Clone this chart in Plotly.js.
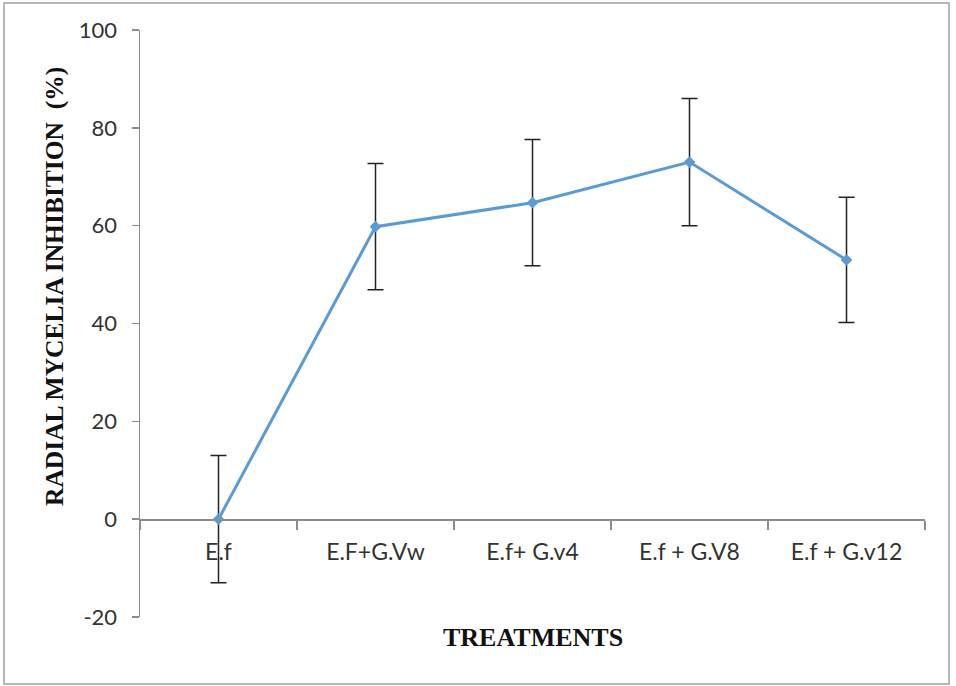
<!DOCTYPE html>
<html>
<head>
<meta charset="utf-8">
<script src="https://cdn.plot.ly/plotly-3.0.1.min.js"></script>
<style>
html,body{margin:0;padding:0;background:#fff;}
#chart{width:956px;height:686px;}
</style>
</head>
<body>
<div id="chart"></div>
<script>
var categories = ["E.f", "E.F+G.Vw", "E.f+ G.v4", "E.f + G.V8", "E.f + G.v12"];
var inhibition = [0, 59.8, 64.7, 73.0, 53.0];
var errors = [13, 12.9, 12.9, 13, 12.8];
var yTicks = [-20, 0, 20, 40, 60, 80, 100];

var L = 140, R = 925, T = 30, B = 617;
function px(x){ return (x - L) / (R - L); }
function py(y){ return (B - y) / (B - T); }

var trace = {
  x: categories,
  y: inhibition,
  type: 'scatter',
  mode: 'lines+markers',
  line: {color: '#5B9BD5', width: 3},
  marker: {symbol: 'diamond', size: 9, color: '#5B9BD5'},
  error_y: {type: 'data', array: errors, visible: true, color: '#222', thickness: 1.5, width: 8},
  showlegend: false,
  cliponaxis: false
};

var layout = {
  width: 956, height: 686,
  margin: {l: L, r: 956 - R, t: T, b: 686 - B},
  paper_bgcolor: '#fff', plot_bgcolor: '#fff',
  xaxis: {
    type: 'category',
    range: [-0.5, 4.5],
    anchor: 'free',
    position: 20 / 120,
    showline: true, linecolor: '#8c8c8c', linewidth: 1.5,
    showgrid: false, zeroline: false,
    ticks: 'outside', tickson: 'boundaries', ticklen: 9, tickcolor: '#8c8c8c', tickwidth: 1.5,
    tickfont: {family: 'Lato, sans-serif', size: 23, color: '#333'},
    ticklabelstandoff: 12
  },
  yaxis: {
    range: [-20, 100],
    tickvals: yTicks,
    ticktext: yTicks.map(String),
    showline: true, linecolor: '#8c8c8c', linewidth: 1.5,
    showgrid: false, zeroline: false,
    ticks: 'outside', ticklen: 7, tickcolor: '#8c8c8c', tickwidth: 1.5,
    tickfont: {family: 'Lato, sans-serif', size: 22, color: '#333'},
    ticklabelstandoff: 10
  },
  annotations: [
    {text: '<b>RADIAL MYCELIA INHIBITION  (%)</b>', xref: 'paper', yref: 'paper',
     x: px(54), y: py(287), xanchor: 'center', yanchor: 'middle', textangle: -90, showarrow: false,
     font: {family: '"Liberation Serif", "Times New Roman", serif', size: 25.5, color: '#111'}},
    {text: '<b>TREATMENTS</b>', xref: 'paper', yref: 'paper',
     x: px(533), y: py(637), xanchor: 'center', yanchor: 'middle', showarrow: false,
     font: {family: '"Liberation Serif", "Times New Roman", serif', size: 26, color: '#111'}}
  ],
  shapes: [
    {type: 'rect', xref: 'paper', yref: 'paper', x0: px(4), x1: px(949), y0: py(684), y1: py(3),
     line: {color: '#a0a0a0', width: 1.5}, fillcolor: 'rgba(0,0,0,0)', layer: 'below'}
  ]
};

Plotly.newPlot('chart', [trace], layout, {displayModeBar: false, staticPlot: true});
</script>
</body>
</html>
